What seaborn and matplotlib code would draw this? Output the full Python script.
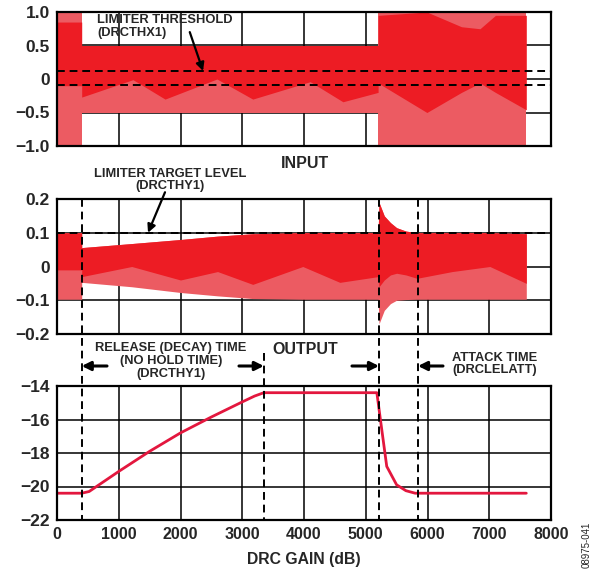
import numpy as np
import pandas as pd
import matplotlib
matplotlib.use('Agg')  # headless
import matplotlib.pyplot as plt
import matplotlib.transforms as mtrans
from matplotlib.lines import Line2D
import seaborn as sns

# input waveform envelope (knots)
in_x = [0, 400, 400, 1230, 1750, 2590, 3170, 4100, 4630, 5200, 5200, 5990, 6550, 6850, 7100, 7600]
in_hi = [1.0, 1.0, 0.5, 0.5, 0.5, 0.5, 0.5, 0.5, 0.5, 0.5, 1.0, 1.0, 1.0, 1.0, 1.0, 1.0]
in_lo = [-1.0, -1.0, -0.5, -0.5, -0.5, -0.5, -0.5, -0.5, -0.5, -0.5, -1.0, -1.0, -1.0, -1.0, -1.0, -1.0]
in_solid_hi = [0.85, 0.85, 0.5, 0.5, 0.5, 0.5, 0.5, 0.5, 0.5, 0.5, 0.95, 1.0, 0.78, 0.75, 0.95, 0.95]
in_solid_lo = [-0.1, -0.1, -0.27, -0.01, -0.3, 0.0, -0.3, -0.04, -0.34, -0.2, -0.06, -0.5, -0.2, -0.06, -0.2, -0.46]
thresh_levels = [0.12, -0.09]

# output waveform envelope
out_x = [0, 400, 400, 1210, 2000, 2600, 3170, 3980, 4580, 5200, 5215, 5300, 5400, 5500, 5650, 5830, 6400, 7010, 7600]
out_hi = [0.1, 0.1, 0.056, 0.068, 0.08, 0.09, 0.097, 0.1, 0.1, 0.1, 0.19, 0.15, 0.13, 0.115, 0.105, 0.1, 0.1, 0.1, 0.097]
out_lo = [-0.097, -0.097, -0.047, -0.06, -0.077, -0.087, -0.095, -0.097, -0.097, -0.097, -0.17, -0.13, -0.11,
          -0.1, -0.098, -0.097, -0.097, -0.097, -0.097]
out_solid_lo = [-0.01, -0.01, -0.03, 0.0, -0.04, -0.015, -0.053, 0.0, -0.047, -0.03, -0.06, -0.04, -0.025,
                -0.02, -0.025, -0.035, -0.015, 0.0, -0.05]
target_levels = [0.1]

# drc gain curve
gain_x = [0, 400, 520, 1000, 1500, 2000, 2500, 3000, 3200, 3350, 5180, 5230, 5340, 5500, 5650, 5800, 7600]
gain_db = [-20.4, -20.4, -20.3, -19.1, -17.9, -16.8, -15.85, -14.95, -14.6, -14.4, -14.4, -15.8, -18.8,
           -19.9, -20.25, -20.4, -20.4]

x_ticks = list(range(0, 8001, 1000))
in_ticks = [-1.0, -0.5, 0, 0.5, 1.0]
in_labels = ['\u22121.0', '\u22120.5', '0', '0.5', '1.0']
out_ticks = [-0.2, -0.1, 0, 0.1, 0.2]
out_labels = ['\u22120.2', '\u22120.1', '0', '0.1', '0.2']
gain_ticks = [-22, -20, -18, -16, -14]
gain_labels = ['\u221222', '\u221220', '\u221218', '\u221216', '\u221214']

# marker times for dashed verticals (x, top y in fig px)
mark_x = [400, 3350, 5215, 5846]
mark_top = [199, 353, 199, 199]

sns.set_style('white')
plt.rcParams['font.family'] = ['Liberation Sans', 'DejaVu Sans']
plt.rcParams['font.weight'] = 'bold'

W, H = 593, 571
RED = '#ed1c24'
PINK = '#ec5b62'
fig = plt.figure(figsize=(W / 100, H / 100), dpi=100)

def px_box(l, t, r, b):  # px -> fig frac
    return [l / W, 1 - b / H, (r - l) / W, (b - t) / H]

ax1 = fig.add_axes(px_box(57, 12, 551, 146))
ax2 = fig.add_axes(px_box(57, 199, 551, 334))
ax3 = fig.add_axes(px_box(57, 386, 551, 520))

def style_ax(ax, yt, yl, ylim, show_x):
    ax.set_xlim(0, 8000)
    ax.set_ylim(*ylim)
    ax.set_xticks(x_ticks)
    ax.set_yticks(yt)
    ax.set_yticklabels(yl)
    if not show_x:
        ax.set_xticklabels([])
    ax.tick_params(axis='y', length=0, pad=5, labelsize=12.5)
    ax.tick_params(axis='x', length=0, pad=5, labelsize=11.5)
    ax.grid(True, color='black', lw=1.1)
    ax.set_axisbelow(True)
    for s in ax.spines.values():
        s.set_color('black')
        s.set_linewidth(1.6)
        s.set_zorder(5)
    ax.set_xlabel('')
    ax.set_ylabel('')

# input
ax1.fill_between(in_x, in_lo, in_hi, color=PINK, lw=0, zorder=2)
ax1.fill_between(in_x, in_solid_lo, in_solid_hi, color=RED, lw=0, zorder=2)
for lv in thresh_levels:
    ax1.axhline(lv, color='black', ls=(0, (4, 2.5)), lw=1.4, zorder=4)
style_ax(ax1, in_ticks, in_labels, (-1.0, 1.0), False)

# output
ax2.fill_between(out_x, out_lo, out_hi, color=PINK, lw=0, zorder=2)
ax2.fill_between(out_x, out_solid_lo, out_hi, color=RED, lw=0, zorder=2)
for lv in target_levels:
    ax2.axhline(lv, color='black', ls=(0, (4, 2.5)), lw=1.4, zorder=4)
style_ax(ax2, out_ticks, out_labels, (-0.2, 0.2), False)

# gain
gdf = pd.DataFrame({'x': gain_x, 'db': gain_db})
sns.lineplot(data=gdf, x='x', y='db', ax=ax3, color='#e3173e', lw=2.0, zorder=3)
style_ax(ax3, gain_ticks, gain_labels, (-22, -14), True)
ax3.set_xlabel('DRC GAIN (dB)', fontsize=11.3, fontweight='bold', labelpad=7)

# dashed markers through middle, gap, bottom
tr = mtrans.blended_transform_factory(ax3.transData, fig.transFigure)
for mx, top in zip(mark_x, mark_top):
    fig.add_artist(Line2D([mx, mx], [1 - top / H, 1 - 520 / H], transform=tr, color='black',
                          ls=(0, (4, 2.5)), lw=1.4, zorder=6))

# arrows in the gap
ay = 1 - 366 / H
arr = dict(arrowstyle='-|>', color='black', lw=2.2, mutation_scale=13, shrinkA=0, shrinkB=0)
for tail, head in [(810, 400), (2947, 3350), (4777, 5215), (6251, 5846)]:
    ax3.annotate('', xy=(head, ay), xytext=(tail, ay), xycoords=('data', 'figure fraction'),
                 textcoords=('data', 'figure fraction'), arrowprops=arr, annotation_clip=False)

# pointer arrows
arr2 = dict(arrowstyle='-|>', color='black', lw=1.6, mutation_scale=12, shrinkA=0, shrinkB=0)
ax1.annotate('', xy=(2365, 0.12), xytext=(2150, 0.70), arrowprops=arr2, zorder=6)
ax2.annotate('', xy=(1474, 0.1), xytext=(1749, 0.22), arrowprops=arr2, annotation_clip=False, zorder=6)

# labels
fig.text(97 / W, 1 - 14 / H, 'LIMITER THRESHOLD\n(DRCTHX1)', ha='left', va='top', fontsize=9.3,
         fontweight='bold', linespacing=1.1, zorder=7)
fig.text(305 / W, 1 - 163 / H, 'INPUT', ha='center', va='center', fontsize=11.5, fontweight='bold')
fig.text(170 / W, 1 - 180 / H, 'LIMITER TARGET LEVEL\n(DRCTHY1)', ha='center', va='center', fontsize=9.3,
         fontweight='bold', linespacing=1.1)
fig.text(305 / W, 1 - 350 / H, 'OUTPUT', ha='center', va='center', fontsize=11.5, fontweight='bold')
fig.text(171 / W, 1 - 361 / H, 'RELEASE (DECAY) TIME\n(NO HOLD TIME)\n(DRCTHY1)', ha='center', va='center',
         fontsize=9.3, fontweight='bold', linespacing=1.1)
fig.text(452 / W, 1 - 364 / H, 'ATTACK TIME\n(DRCLELATT)', ha='left', va='center', fontsize=9.3,
         fontweight='bold', linespacing=1.1)
fig.text(587 / W, 1 - 545 / H, '08975-041', ha='center', va='center', rotation=90, fontsize=7,
         fontweight='normal')

plt.savefig('out.png', dpi=100)
plt.close()
